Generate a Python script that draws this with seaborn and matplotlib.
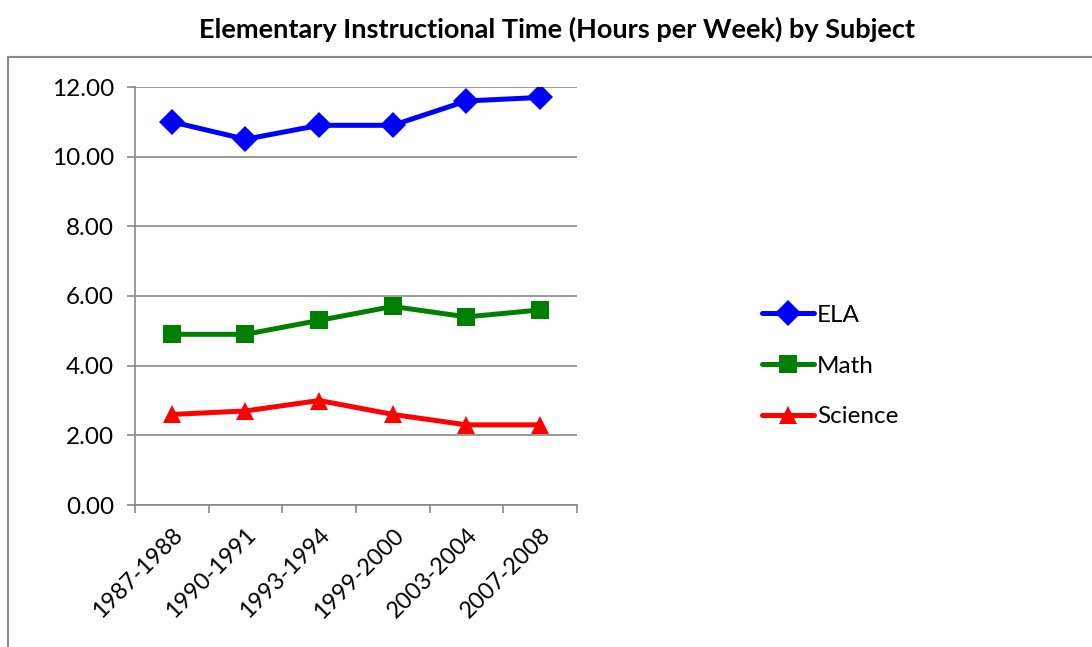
import matplotlib
matplotlib.use("Agg")
import matplotlib.pyplot as plt
import matplotlib.transforms as mtransforms
import seaborn as sns
import pandas as pd
from matplotlib.patches import Rectangle

years = ["1987-1988", "1990-1991", "1993-1994", "1999-2000", "2003-2004", "2007-2008"]
ela = [11.0, 10.5, 10.9, 10.9, 11.6, 11.7]
math_ = [4.9, 4.9, 5.3, 5.7, 5.4, 5.6]
science = [2.6, 2.7, 3.0, 2.6, 2.3, 2.3]
subjects = ["ELA", "Math", "Science"]
colors = ["#0000FF", "#008000", "#FF0000"]
markers = ["D", "s", "^"]

rows = []
for subj, vals in zip(subjects, [ela, math_, science]):
    for i, (y, v) in enumerate(zip(years, vals)):
        rows.append({"Year": y, "x": i, "Subject": subj, "Hours": v})
df = pd.DataFrame(rows)

sns.set_theme(style="white")
plt.rcParams['font.family'] = ['Lato', 'DejaVu Sans']
plt.rcParams['text.color'] = 'black'
plt.rcParams['xtick.labelcolor'] = 'black'
plt.rcParams['ytick.labelcolor'] = 'black'

fig = plt.figure(figsize=(10.92, 6.47), dpi=100)
ax = fig.add_axes([135/1092, 1-505/647, (577-135)/1092, (505-87)/647])

sns.lineplot(data=df, x="x", y="Hours", hue="Subject", style="Subject",
             palette=dict(zip(subjects, colors)),
             markers=dict(zip(subjects, markers)), dashes=False,
             linewidth=3.6, markersize=13, markeredgewidth=0, ax=ax)

ax.set_xlim(-0.5, len(years) - 0.5)
ax.set_ylim(0, 12)
ax.set_yticks([0, 2, 4, 6, 8, 10, 12])
ax.set_yticklabels([f"{v:.2f}" for v in [0, 2, 4, 6, 8, 10, 12]], fontsize=17.5, color="black")
ax.set_xticks(range(len(years)))
ax.set_xticklabels(years, rotation=45, ha="right", va="top", rotation_mode="anchor",
                   fontsize=16.8, color="black")
offset = mtransforms.ScaledTranslation(-16/100, 0, fig.dpi_scale_trans)
for lbl in ax.get_xticklabels():
    lbl.set_transform(lbl.get_transform() + offset)
ax.set_xticks([i - 0.5 for i in range(len(years) + 1)], minor=True)
ax.tick_params(axis="x", which="major", length=0, pad=14)
ax.tick_params(axis="x", which="minor", length=6, color="#888888", width=1.2, direction="out", bottom=True)
ax.tick_params(axis="y", length=6, color="#888888", width=1.2, direction="out", left=True, pad=9)
ax.grid(axis="y", color="#888888", linewidth=1.2)
ax.set_axisbelow(True)
for s in ["top", "right"]:
    ax.spines[s].set_visible(False)
for s in ["left", "bottom"]:
    ax.spines[s].set_color("#888888")
    ax.spines[s].set_linewidth(1.2)
ax.set_xlabel("")
ax.set_ylabel("")

leg = ax.legend(loc="center left", bbox_to_anchor=(752/1092, 1-366/647),
                bbox_transform=fig.transFigure, frameon=False, fontsize=17.5,
                handlelength=2.15, handletextpad=0.12, labelspacing=1.22, borderaxespad=0)
for h in leg.legend_handles:
    h.set_markersize(13)
for t in leg.get_texts():
    t.set_color("black")

fig.text(557/1092, 1-29/647, "Elementary Instructional Time (Hours per Week) by Subject",
         ha="center", va="center", fontsize=19.5, fontweight="bold", color="black")

fig.patches.append(Rectangle((8/1092, -0.1), 1.2, 1-57/647 + 0.1, transform=fig.transFigure,
                             fill=False, edgecolor="#888888", linewidth=1.5))

fig.savefig("out.png", dpi=100)
